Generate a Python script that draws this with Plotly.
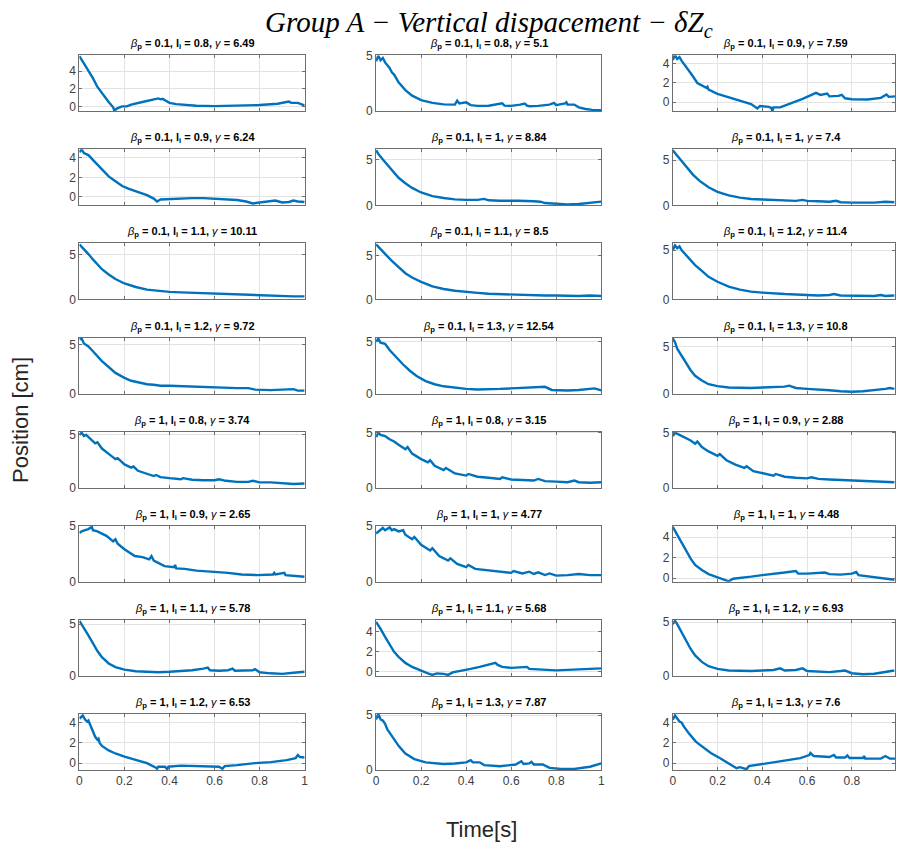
import plotly.graph_objects as go

# ---- panel parameters (row-major, 8 rows x 3 columns) ----
BETA_P = [0.1, 0.1, 0.1,
          0.1, 0.1, 0.1,
          0.1, 0.1, 0.1,
          0.1, 0.1, 0.1,
          1, 1, 1,
          1, 1, 1,
          1, 1, 1,
          1, 1, 1]
L_I = [0.8, 0.8, 0.9,
       0.9, 1, 1,
       1.1, 1.1, 1.2,
       1.2, 1.3, 1.3,
       0.8, 0.8, 0.9,
       0.9, 1, 1,
       1.1, 1.1, 1.2,
       1.2, 1.3, 1.3]
GAMMA = ["6.49", "5.1", "7.59",
         "6.24", "8.84", "7.4",
         "10.11", "8.5", "11.4",
         "9.72", "12.54", "10.8",
         "3.74", "3.15", "2.88",
         "2.65", "4.77", "4.48",
         "5.78", "5.68", "6.93",
         "6.53", "7.87", "7.6"]

# ---- vertical displacement traces: (time [s], dZc [cm]) ----
P01 = [(0, 5.7), (0.01, 5.3), (0.03, 4.5), (0.06, 3.2), (0.08, 2.2), (0.11, 1.1), (0.13, 0.5),
       (0.15, -0.1), (0.155, -0.45), (0.17, -0.2), (0.19, 0.0), (0.21, 0.0), (0.23, 0.2), (0.28, 0.5),
       (0.32, 0.7), (0.35, 0.9), (0.36, 0.8), (0.37, 0.85), (0.38, 0.7), (0.40, 0.4), (0.43, 0.25),
       (0.47, 0.15), (0.52, 0.08), (0.6, 0.03), (0.7, 0.05), (0.8, 0.15), (0.88, 0.3), (0.92, 0.45),
       (0.93, 0.55), (0.94, 0.4), (0.96, 0.35), (0.97, 0.4), (0.99, 0.2), (1.0, 0.1)]
P02 = [(0, 4.5), (0.005, 4.8), (0.01, 5.0), (0.02, 4.6), (0.03, 4.8), (0.04, 4.4), (0.06, 3.9),
       (0.07, 3.5), (0.08, 3.3), (0.1, 2.6), (0.13, 1.9), (0.16, 1.4), (0.2, 1.0), (0.25, 0.75),
       (0.3, 0.62), (0.35, 0.6), (0.36, 0.95), (0.37, 0.7), (0.39, 0.75), (0.40, 0.8), (0.42, 0.55),
       (0.45, 0.48), (0.5, 0.5), (0.54, 0.65), (0.56, 0.72), (0.57, 0.5), (0.6, 0.48), (0.64, 0.6),
       (0.66, 0.7), (0.67, 0.5), (0.68, 0.45), (0.72, 0.48), (0.77, 0.6), (0.79, 0.75), (0.80, 0.55),
       (0.81, 0.6), (0.84, 0.7), (0.845, 0.8), (0.85, 0.6), (0.88, 0.6), (0.9, 0.35), (0.93, 0.2),
       (0.96, 0.12), (1.0, 0.1)]
P03 = [(0, 4.4), (0.01, 4.9), (0.02, 4.5), (0.03, 4.7), (0.04, 4.3), (0.05, 4.0), (0.06, 3.6),
       (0.09, 2.7), (0.11, 2.0), (0.13, 1.75), (0.15, 1.5), (0.155, 1.6), (0.16, 1.3), (0.2, 0.87),
       (0.25, 0.5), (0.3, 0.2), (0.35, -0.2), (0.378, -0.66), (0.39, -0.4), (0.43, -0.5), (0.44, -0.6),
       (0.445, -0.95), (0.45, -0.55), (0.48, -0.55), (0.52, -0.2), (0.58, 0.35), (0.64, 0.97),
       (0.66, 0.75), (0.69, 0.9), (0.70, 0.6), (0.74, 0.65), (0.755, 0.75), (0.77, 0.4), (0.8, 0.3),
       (0.87, 0.28), (0.93, 0.45), (0.955, 0.8), (0.965, 0.55), (0.995, 0.6)]
P04 = [(0, 4.6), (0.01, 4.9), (0.02, 4.5), (0.04, 4.3), (0.06, 3.8), (0.08, 3.3), (0.1, 2.8),
       (0.13, 2.1), (0.16, 1.6), (0.19, 1.1), (0.22, 0.8), (0.26, 0.5), (0.3, 0.15), (0.33, -0.2),
       (0.345, -0.5), (0.36, -0.3), (0.4, -0.25), (0.45, -0.2), (0.5, -0.15), (0.55, -0.15), (0.6, -0.2),
       (0.65, -0.3), (0.7, -0.35), (0.74, -0.5), (0.77, -0.7), (0.8, -0.6), (0.85, -0.5), (0.87, -0.4),
       (0.9, -0.6), (0.93, -0.55), (0.95, -0.4), (0.97, -0.5), (1.0, -0.55)]
P05 = [(0, 6.0), (0.01, 5.6), (0.03, 5.0), (0.05, 4.4), (0.07, 3.8), (0.1, 3.0), (0.13, 2.4),
       (0.16, 1.9), (0.2, 1.4), (0.25, 1.0), (0.3, 0.8), (0.35, 0.65), (0.4, 0.6), (0.45, 0.6),
       (0.48, 0.7), (0.5, 0.55), (0.55, 0.5), (0.6, 0.55), (0.63, 0.5), (0.7, 0.45), (0.73, 0.4),
       (0.75, 0.25), (0.8, 0.15), (0.85, 0.1), (0.9, 0.15), (0.95, 0.3), (1.0, 0.4)]
P06 = [(0, 6.1), (0.01, 5.8), (0.03, 5.1), (0.06, 4.2), (0.09, 3.4), (0.12, 2.7), (0.16, 2.0),
       (0.2, 1.5), (0.25, 1.1), (0.3, 0.85), (0.35, 0.7), (0.4, 0.65), (0.45, 0.6), (0.5, 0.55),
       (0.55, 0.5), (0.58, 0.6), (0.6, 0.5), (0.65, 0.45), (0.7, 0.4), (0.73, 0.5), (0.75, 0.35),
       (0.8, 0.3), (0.85, 0.3), (0.9, 0.3), (0.95, 0.4), (0.99, 0.35)]
P07 = [(0, 6.2), (0.02, 5.7), (0.04, 5.1), (0.06, 4.5), (0.08, 3.9), (0.1, 3.4), (0.13, 2.8),
       (0.16, 2.3), (0.2, 1.8), (0.25, 1.4), (0.3, 1.1), (0.35, 0.95), (0.4, 0.85), (0.45, 0.8),
       (0.5, 0.75), (0.55, 0.7), (0.6, 0.65), (0.65, 0.6), (0.7, 0.55), (0.75, 0.5), (0.8, 0.5),
       (0.85, 0.45), (0.9, 0.4), (0.95, 0.35), (1.0, 0.35)]
P08 = [(0, 6.3), (0.02, 5.8), (0.04, 5.2), (0.07, 4.4), (0.1, 3.7), (0.13, 3.0), (0.16, 2.5),
       (0.2, 2.0), (0.25, 1.5), (0.3, 1.2), (0.35, 1.0), (0.4, 0.85), (0.45, 0.75), (0.5, 0.65),
       (0.55, 0.6), (0.6, 0.55), (0.65, 0.5), (0.7, 0.5), (0.75, 0.45), (0.8, 0.45), (0.85, 0.4),
       (0.9, 0.4), (0.95, 0.45), (1.0, 0.4)]
P09 = [(0, 5.0), (0.01, 5.5), (0.02, 5.2), (0.03, 5.4), (0.04, 5.0), (0.06, 4.5), (0.08, 4.0),
       (0.1, 3.5), (0.13, 2.9), (0.16, 2.3), (0.2, 1.8), (0.25, 1.3), (0.3, 1.0), (0.35, 0.8),
       (0.4, 0.7), (0.45, 0.6), (0.5, 0.55), (0.55, 0.5), (0.6, 0.45), (0.65, 0.4), (0.7, 0.45),
       (0.72, 0.55), (0.75, 0.4), (0.8, 0.4), (0.85, 0.35), (0.9, 0.35), (0.93, 0.45), (0.95, 0.35),
       (0.99, 0.4)]
P10 = [(0, 5.5), (0.01, 5.6), (0.02, 5.1), (0.04, 4.8), (0.06, 4.3), (0.08, 3.8), (0.1, 3.3),
       (0.13, 2.7), (0.16, 2.1), (0.2, 1.6), (0.23, 1.3), (0.27, 1.1), (0.3, 0.95), (0.33, 0.9),
       (0.36, 0.8), (0.4, 0.8), (0.45, 0.75), (0.5, 0.7), (0.55, 0.65), (0.6, 0.65), (0.65, 0.6),
       (0.7, 0.55), (0.75, 0.55), (0.78, 0.4), (0.85, 0.35), (0.9, 0.4), (0.95, 0.45), (0.97, 0.3),
       (1.0, 0.3)]
P11 = [(0, 5.0), (0.01, 5.3), (0.02, 4.9), (0.04, 4.8), (0.06, 4.2), (0.08, 3.7), (0.1, 3.2),
       (0.12, 2.8), (0.15, 2.2), (0.18, 1.7), (0.22, 1.2), (0.26, 0.9), (0.3, 0.7), (0.35, 0.55),
       (0.4, 0.45), (0.45, 0.4), (0.5, 0.4), (0.55, 0.45), (0.6, 0.5), (0.65, 0.55), (0.7, 0.6),
       (0.75, 0.65), (0.78, 0.35), (0.85, 0.3), (0.9, 0.35), (0.95, 0.45), (0.97, 0.5), (1.0, 0.3)]
P12 = [(0, 5.9), (0.01, 5.5), (0.02, 4.8), (0.04, 4.0), (0.06, 3.2), (0.08, 2.5), (0.1, 1.9),
       (0.13, 1.4), (0.16, 1.0), (0.2, 0.8), (0.25, 0.65), (0.3, 0.6), (0.35, 0.6), (0.4, 0.65),
       (0.45, 0.7), (0.5, 0.75), (0.52, 0.85), (0.55, 0.6), (0.6, 0.5), (0.65, 0.45), (0.7, 0.35),
       (0.75, 0.25), (0.8, 0.2), (0.85, 0.25), (0.9, 0.35), (0.95, 0.5), (0.97, 0.6), (0.99, 0.5)]
P13 = [(0, 5.0), (0.01, 5.2), (0.02, 4.9), (0.03, 5.0), (0.05, 4.6), (0.07, 4.2), (0.08, 4.3),
       (0.1, 3.7), (0.13, 3.2), (0.16, 2.7), (0.17, 2.8), (0.2, 2.2), (0.23, 1.9), (0.24, 2.0),
       (0.26, 1.6), (0.3, 1.3), (0.33, 1.1), (0.34, 1.2), (0.36, 1.0), (0.4, 0.9), (0.45, 0.8),
       (0.46, 0.9), (0.5, 0.75), (0.55, 0.7), (0.6, 0.7), (0.62, 0.8), (0.65, 0.65), (0.7, 0.55),
       (0.75, 0.55), (0.77, 0.65), (0.8, 0.5), (0.85, 0.5), (0.9, 0.4), (0.95, 0.35), (1.0, 0.4)]
P14 = [(0, 4.6), (0.01, 5.0), (0.02, 4.8), (0.04, 4.7), (0.06, 4.4), (0.08, 4.2), (0.1, 3.9),
       (0.13, 3.5), (0.14, 3.7), (0.16, 3.1), (0.2, 2.6), (0.23, 2.3), (0.24, 2.5), (0.26, 2.0),
       (0.3, 1.6), (0.31, 1.8), (0.35, 1.3), (0.4, 1.1), (0.41, 1.25), (0.45, 1.0), (0.5, 0.9),
       (0.55, 0.8), (0.56, 0.95), (0.6, 0.75), (0.65, 0.7), (0.7, 0.65), (0.72, 0.8), (0.75, 0.6),
       (0.8, 0.55), (0.85, 0.5), (0.88, 0.65), (0.9, 0.5), (0.95, 0.45), (1.0, 0.5)]
P15 = [(0, 4.7), (0.01, 5.0), (0.03, 4.8), (0.05, 4.6), (0.08, 4.3), (0.1, 4.0), (0.11, 4.2),
       (0.13, 3.7), (0.16, 3.3), (0.2, 2.9), (0.21, 3.05), (0.24, 2.5), (0.28, 2.1), (0.32, 1.8),
       (0.33, 1.95), (0.36, 1.5), (0.4, 1.3), (0.45, 1.1), (0.46, 1.25), (0.5, 1.0), (0.55, 0.9),
       (0.6, 0.85), (0.62, 0.95), (0.65, 0.8), (0.7, 0.75), (0.75, 0.7), (0.8, 0.65), (0.85, 0.6),
       (0.9, 0.6), (0.95, 0.55), (0.99, 0.5)]
P16 = [(0, 4.35), (0.01, 4.5), (0.025, 4.6), (0.04, 4.7), (0.055, 4.9), (0.06, 4.6), (0.08, 4.5),
       (0.1, 4.3), (0.12, 4.1), (0.15, 3.6), (0.16, 3.8), (0.17, 3.4), (0.2, 2.9), (0.246, 2.3),
       (0.28, 2.2), (0.31, 2.0), (0.32, 2.3), (0.33, 1.9), (0.378, 1.4), (0.42, 1.3), (0.425, 1.5),
       (0.43, 1.2), (0.467, 1.15), (0.52, 1.0), (0.57, 0.95), (0.66, 0.8), (0.72, 0.65), (0.79, 0.6),
       (0.86, 0.65), (0.865, 0.8), (0.87, 0.65), (0.91, 0.8), (0.915, 0.6), (0.96, 0.5), (1.0, 0.45)]
P17 = [(0, 4.3), (0.02, 4.6), (0.03, 4.8), (0.04, 4.6), (0.06, 4.85), (0.07, 4.6), (0.08, 4.7),
       (0.1, 4.5), (0.12, 4.6), (0.13, 4.2), (0.16, 3.8), (0.17, 4.0), (0.2, 3.3), (0.24, 2.8),
       (0.25, 3.0), (0.28, 2.3), (0.32, 1.9), (0.33, 2.1), (0.36, 1.6), (0.4, 1.3), (0.41, 1.5),
       (0.44, 1.15), (0.5, 1.0), (0.55, 0.9), (0.6, 0.8), (0.61, 0.95), (0.65, 0.75), (0.68, 0.9),
       (0.7, 0.7), (0.72, 0.85), (0.75, 0.6), (0.77, 0.75), (0.8, 0.55), (0.85, 0.6), (0.9, 0.7),
       (0.95, 0.6), (1.0, 0.6)]
P18 = [(0, 5.0), (0.01, 4.6), (0.02, 4.2), (0.04, 3.4), (0.06, 2.6), (0.08, 1.9), (0.1, 1.3),
       (0.13, 0.8), (0.16, 0.4), (0.2, 0.1), (0.24, -0.2), (0.25, -0.3), (0.27, -0.05), (0.3, 0.05),
       (0.35, 0.15), (0.4, 0.3), (0.45, 0.4), (0.5, 0.55), (0.55, 0.7), (0.56, 0.45), (0.6, 0.45),
       (0.65, 0.5), (0.68, 0.55), (0.7, 0.4), (0.75, 0.35), (0.8, 0.45), (0.82, 0.6), (0.83, 0.3),
       (0.88, 0.15), (0.92, 0.05), (0.96, -0.1), (0.99, -0.15)]
P19 = [(0, 5.3), (0.01, 5.0), (0.02, 4.6), (0.04, 3.9), (0.06, 3.1), (0.08, 2.4), (0.1, 1.8),
       (0.13, 1.2), (0.16, 0.85), (0.2, 0.6), (0.25, 0.45), (0.3, 0.4), (0.35, 0.35), (0.4, 0.4),
       (0.45, 0.45), (0.5, 0.55), (0.55, 0.7), (0.57, 0.8), (0.58, 0.55), (0.62, 0.5), (0.66, 0.55),
       (0.68, 0.7), (0.69, 0.5), (0.73, 0.5), (0.77, 0.55), (0.78, 0.65), (0.8, 0.35), (0.85, 0.25),
       (0.9, 0.2), (0.95, 0.3), (1.0, 0.4)]
P20 = [(0, 5.0), (0.01, 4.7), (0.02, 4.3), (0.04, 3.5), (0.06, 2.7), (0.08, 2.0), (0.1, 1.5),
       (0.13, 0.9), (0.16, 0.5), (0.2, 0.1), (0.23, -0.15), (0.25, -0.3), (0.27, -0.15), (0.3, -0.2),
       (0.32, -0.3), (0.34, -0.05), (0.38, 0.1), (0.42, 0.3), (0.46, 0.5), (0.5, 0.7), (0.53, 0.9),
       (0.54, 0.7), (0.56, 0.5), (0.6, 0.4), (0.64, 0.45), (0.67, 0.5), (0.68, 0.3), (0.72, 0.25),
       (0.76, 0.2), (0.8, 0.15), (0.85, 0.2), (0.9, 0.25), (0.95, 0.3), (1.0, 0.35)]
P21 = [(0, 4.8), (0.01, 5.1), (0.02, 4.8), (0.04, 4.0), (0.06, 3.2), (0.08, 2.5), (0.1, 1.9),
       (0.13, 1.3), (0.16, 0.9), (0.2, 0.65), (0.25, 0.5), (0.3, 0.45), (0.35, 0.45), (0.4, 0.5),
       (0.45, 0.55), (0.48, 0.7), (0.5, 0.5), (0.55, 0.55), (0.58, 0.7), (0.6, 0.45), (0.65, 0.4),
       (0.7, 0.35), (0.75, 0.45), (0.77, 0.5), (0.8, 0.25), (0.85, 0.15), (0.9, 0.2), (0.95, 0.35),
       (0.99, 0.5)]
P22 = [(0, 4.4), (0.015, 4.7), (0.025, 4.3), (0.035, 4.1), (0.04, 4.2), (0.05, 3.6), (0.06, 3.2),
       (0.07, 2.6), (0.08, 2.3), (0.085, 2.4), (0.09, 2.0), (0.1, 1.7), (0.13, 1.25), (0.16, 0.95),
       (0.2, 0.65), (0.25, 0.3), (0.3, 0.0), (0.34, -0.45), (0.345, -0.55), (0.35, -0.35), (0.38, -0.35),
       (0.39, -0.6), (0.395, -0.35), (0.45, -0.25), (0.55, -0.3), (0.62, -0.35), (0.635, -0.55),
       (0.645, -0.3), (0.7, -0.2), (0.78, 0.0), (0.85, 0.1), (0.92, 0.3), (0.96, 0.5), (0.97, 0.8),
       (0.98, 0.6), (1.0, 0.55)]
P23 = [(0, 4.6), (0.01, 5.1), (0.02, 4.6), (0.03, 4.5), (0.04, 4.2), (0.05, 3.7), (0.06, 3.4),
       (0.08, 2.8), (0.1, 2.2), (0.13, 1.5), (0.17, 1.0), (0.22, 0.7), (0.3, 0.55), (0.35, 0.6),
       (0.4, 0.7), (0.42, 0.9), (0.43, 0.7), (0.46, 0.7), (0.48, 0.45), (0.55, 0.35), (0.62, 0.5),
       (0.645, 0.8), (0.655, 0.55), (0.68, 0.6), (0.69, 0.75), (0.7, 0.5), (0.74, 0.5), (0.77, 0.2),
       (0.82, 0.1), (0.88, 0.1), (0.95, 0.3), (1.0, 0.6)]
P24 = [(0, 4.3), (0.01, 4.7), (0.02, 4.4), (0.03, 4.1), (0.04, 4.0), (0.05, 3.6), (0.07, 3.0),
       (0.09, 2.4), (0.1, 2.2), (0.11, 2.0), (0.14, 1.5), (0.17, 1.0), (0.21, 0.5), (0.25, 0.0),
       (0.285, -0.5), (0.3, -0.4), (0.33, -0.6), (0.34, -0.3), (0.4, -0.1), (0.5, 0.2), (0.57, 0.5),
       (0.61, 0.8), (0.615, 1.0), (0.63, 0.7), (0.7, 0.6), (0.72, 0.8), (0.73, 0.55), (0.77, 0.55),
       (0.78, 0.75), (0.79, 0.5), (0.85, 0.5), (0.855, 0.7), (0.86, 0.45), (0.93, 0.45), (0.95, 0.7),
       (0.97, 0.45), (0.995, 0.45)]

SERIES = [P01, P02, P03, P04, P05, P06, P07, P08, P09, P10, P11, P12,
          P13, P14, P15, P16, P17, P18, P19, P20, P21, P22, P23, P24]

# y-axis limits and tick spacing of each panel
Y_LIMITS = [(-0.55, 5.8), (0.0, 5.05), (-0.95, 4.9),
            (-0.9, 4.9), (0.0, 6.1), (0.0, 6.2),
            (0.0, 6.3), (0.0, 6.4), (0.0, 5.7),
            (0.0, 5.7), (0.0, 5.4), (0.0, 6.0),
            (0.0, 5.3), (0.0, 5.1), (0.0, 5.1),
            (0.0, 5.0), (0.0, 5.0), (-0.35, 5.1),
            (0.0, 5.4), (-0.4, 5.2), (0.0, 5.2),
            (-0.68, 4.85), (0.0, 5.1), (-0.68, 4.85)]
Y_DTICK = [2 if lo < -0.2 else 5 for lo, hi in Y_LIMITS]
X_TICKS = [0, 0.2, 0.4, 0.6, 0.8, 1]

# ---- page geometry (pixels) ----
W, H = 899, 844
COL_X = [(77, 304), (376, 603), (675, 899)]
COL_XMAX = [1.0, 1.0, 0.993]
ROW_TOP0, ROW_PITCH, ROW_H = 49, 95.7, 57

BLUE = "#0072BD"
AX_COLOR = "#6e6e6e"
GRID = "#e3e3e3"
TICK_FONT = dict(family="Liberation Sans, Arial, sans-serif", size=12, color="#404040")

fig = go.Figure()
layout = {}
annotations = []

for k, pts in enumerate(SERIES):
    r, c = divmod(k, 3)
    t_vals = [p[0] for p in pts]
    z_vals = [p[1] for p in pts]
    xa = "x" if k == 0 else f"x{k + 1}"
    ya = "y" if k == 0 else f"y{k + 1}"
    fig.add_trace(go.Scatter(x=t_vals, y=z_vals, mode="lines", xaxis=xa, yaxis=ya,
                             line=dict(color=BLUE, width=2.4), showlegend=False,
                             hoverinfo="skip"))

    x0, x1 = COL_X[c]
    top = ROW_TOP0 + r * ROW_PITCH
    bot = top + ROW_H
    xname = "xaxis" if k == 0 else f"xaxis{k + 1}"
    yname = "yaxis" if k == 0 else f"yaxis{k + 1}"
    layout[xname] = dict(
        domain=[x0 / W, x1 / W], anchor=ya, range=[0, COL_XMAX[c]],
        tickmode="array", tickvals=X_TICKS, ticktext=[str(v) for v in X_TICKS],
        showticklabels=(r == 7), tickfont=TICK_FONT,
        showgrid=True, gridcolor=GRID, gridwidth=1, zeroline=False,
        showline=True, linecolor=AX_COLOR, linewidth=1, mirror="ticks",
        ticks="inside", ticklen=3, tickcolor=AX_COLOR,
    )
    lo, hi = Y_LIMITS[k]
    layout[yname] = dict(
        domain=[1 - bot / H, 1 - top / H], anchor=xa, range=[lo, hi],
        tick0=0, dtick=Y_DTICK[k], tickfont=TICK_FONT,
        showgrid=True, gridcolor=GRID, gridwidth=1, zeroline=False,
        showline=True, linecolor=AX_COLOR, linewidth=1, mirror="ticks",
        ticks="inside", ticklen=3, tickcolor=AX_COLOR,
    )

    title = (f"<i>β</i><b><sub>p</sub> = {BETA_P[k]}, l<sub>i</sub> = {L_I[k]}, </b>"
             f"<i>γ</i><b> = {GAMMA[k]}</b>")
    xc = (x0 + x1) / 2 if c < 2 else (675 + 903) / 2
    annotations.append(dict(
        text=title, xref="paper", yref="paper", x=xc / W,
        y=1 - (top - 2) / H, xanchor="center", yanchor="bottom", showarrow=False,
        font=dict(family="Liberation Sans, Arial, sans-serif", size=11, color="#000000"),
    ))

# figure title and shared axis labels
annotations.append(dict(
    text="<i>Group A − Vertical dispacement − δZ<sub>c</sub></i>",
    xref="paper", yref="paper", x=490 / W, y=1 - 17 / H, xanchor="center", yanchor="middle",
    showarrow=False, font=dict(family="Liberation Serif, Times New Roman, serif", size=29, color="#000000"),
))
annotations.append(dict(
    text="Position [cm]", xref="paper", yref="paper", x=17 / W, y=1 - 420 / H,
    xanchor="center", yanchor="middle", textangle=-90, showarrow=False,
    font=dict(family="Liberation Sans, Arial, sans-serif", size=22, color="#262626"),
))
annotations.append(dict(
    text="Time[s]", xref="paper", yref="paper", x=482 / W, y=1 - 836 / H,
    xanchor="center", yanchor="middle", showarrow=False,
    font=dict(family="Liberation Sans, Arial, sans-serif", size=22, color="#262626"),
))

fig.update_layout(
    width=W, height=H, margin=dict(l=0, r=0, t=0, b=0),
    paper_bgcolor="white", plot_bgcolor="white",
    annotations=annotations, **layout,
)

fig.write_html("out.html")
